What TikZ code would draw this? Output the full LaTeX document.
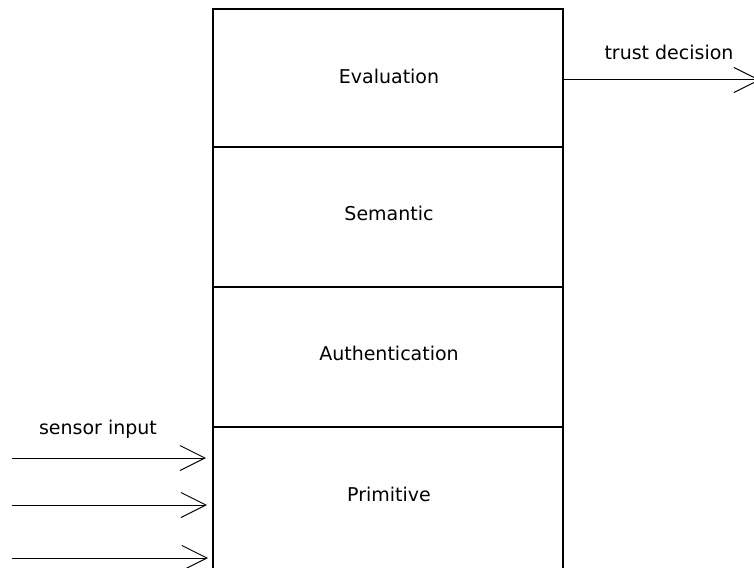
\documentclass[tikz,border=0pt]{standalone}
\usepackage{fontspec}
\setmainfont{DejaVu Sans}
\usetikzlibrary{arrows.meta}
\begin{document}
\begin{tikzpicture}[x=1pt,y=-1pt,
  layer/.style={draw,line width=2pt,minimum width=350pt,minimum height=140pt,
    inner sep=0pt,outer sep=0pt,anchor=north west},
  lbl/.style={font=\fontsize{19}{23}\selectfont,inner sep=0pt},
  flow/.style={line width=1pt,-{Straight Barb[length=25pt,width=25pt,line width=1pt]}}]
  \useasboundingbox (0,0) rectangle (754,567);
  % protocol stack, top to bottom
  \node[layer,minimum height=138pt] (eval) at (213,9) {};
  \node[layer] (sem)  at (213,147) {};
  \node[layer] (auth) at (213,287) {};
  \node[layer,minimum height=150pt] (prim) at (213,427) {};
  \node[lbl] at (389,76)  {Evaluation};
  \node[lbl] at (389,213) {Semantic};
  \node[lbl] at (389,353) {Authentication};
  \node[lbl] at (389,494) {Primitive};
  % output of the top layer
  \coordinate (out) at (760,80);
  \draw[flow] (eval.east |- out) -- (out);
  \node[lbl] at (669,52) {trust decision};
  % inputs into the bottom layer
  \coordinate (s1) at (12,458);
  \coordinate (s2) at (12,505);
  \coordinate (s3) at (12,558);
  \draw[flow,shorten >=7pt] (s1) -- (s1 -| prim.west);
  \draw[flow,shorten >=6pt] (s2) -- (s2 -| prim.west);
  \draw[flow,shorten >=5pt] (s3) -- (s3 -| prim.west);
  \node[lbl] at (98,429) {sensor input};
\end{tikzpicture}
\end{document}
